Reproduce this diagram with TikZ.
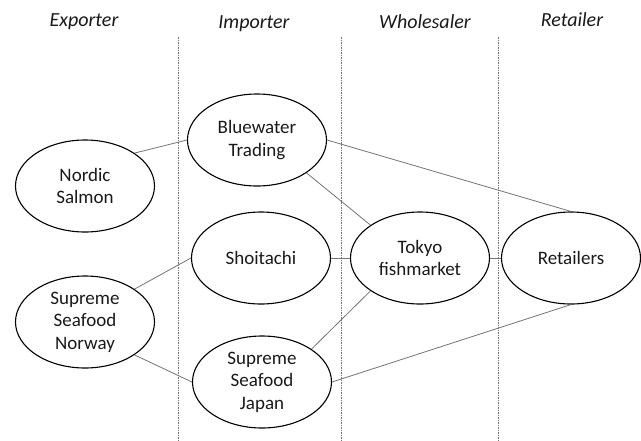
\documentclass[tikz,border=0pt]{standalone}
\usepackage{fontspec}
\setmainfont{Carlito}
\usetikzlibrary{shapes.geometric}
\begin{document}
\begin{tikzpicture}[x=1pt,y=-1pt,
  actor/.style={draw=black,line width=1.1pt,ellipse,minimum width=139pt,minimum height=92pt,inner sep=0pt,align=center,font=\fontsize{19}{22.5}\selectfont,text=black!90},
  link/.style={draw=black!55,line width=0.8pt},
  divider/.style={draw=black!55,line width=0.6pt,dash pattern=on 1.5pt off 1pt},
  header/.style={font=\fontsize{20}{22}\selectfont\itshape,text=black!90}]
\useasboundingbox (0,0) rectangle (641,440);
% column headers
\node[header] (hexp) at (84,22) {Exporter};
\node[header] (himp) at (254,24) {Importer};
\node[header] (hwho) at (425,22) {Wholesaler};
\node[header] (hret) at (572,20) {Retailer};
% dividers
\coordinate (d1t) at (178,37); \coordinate (d1b) at (178,440);
\coordinate (d2t) at (341,37); \coordinate (d2b) at (341,440);
\coordinate (d3t) at (498,37); \coordinate (d3b) at (498,440);
\draw[divider] (d1t) -- (d1b);
\draw[divider] (d2t) -- (d2b);
\draw[divider] (d3t) -- (d3b);
% nodes
\node[actor] (nordic) at (85,186) {Nordic\\Salmon};
\node[actor] (norway) at (85,322) {Supreme\\Seafood\\Norway};
\node[actor] (blue) at (257,140) {Bluewater\\Trading};
\node[actor] (shoi) at (261,258) {Shoitachi};
\node[actor] (japan) at (262,382) {Supreme\\Seafood\\Japan};
\node[actor] (tokyo) at (420,258) {Tokyo\\fishmarket};
\node[actor] (ret) at (571,258) {Retailers};
% links
\draw[link] (nordic.north east) -- (blue.west);
\draw[link] (norway.north east) -- (shoi.west);
\draw[link] (norway.south east) -- (japan.west);
\draw[link] (blue.east) -- (ret.north);
\draw[link] (blue.south east) -- (tokyo.north west);
\draw[link] (shoi.east) -- (tokyo.west);
\draw[link] (japan.north east) -- (tokyo.south west);
\draw[link] (tokyo.east) -- (ret.west);
\draw[link] (japan.east) -- (ret.south);
\end{tikzpicture}
\end{document}
